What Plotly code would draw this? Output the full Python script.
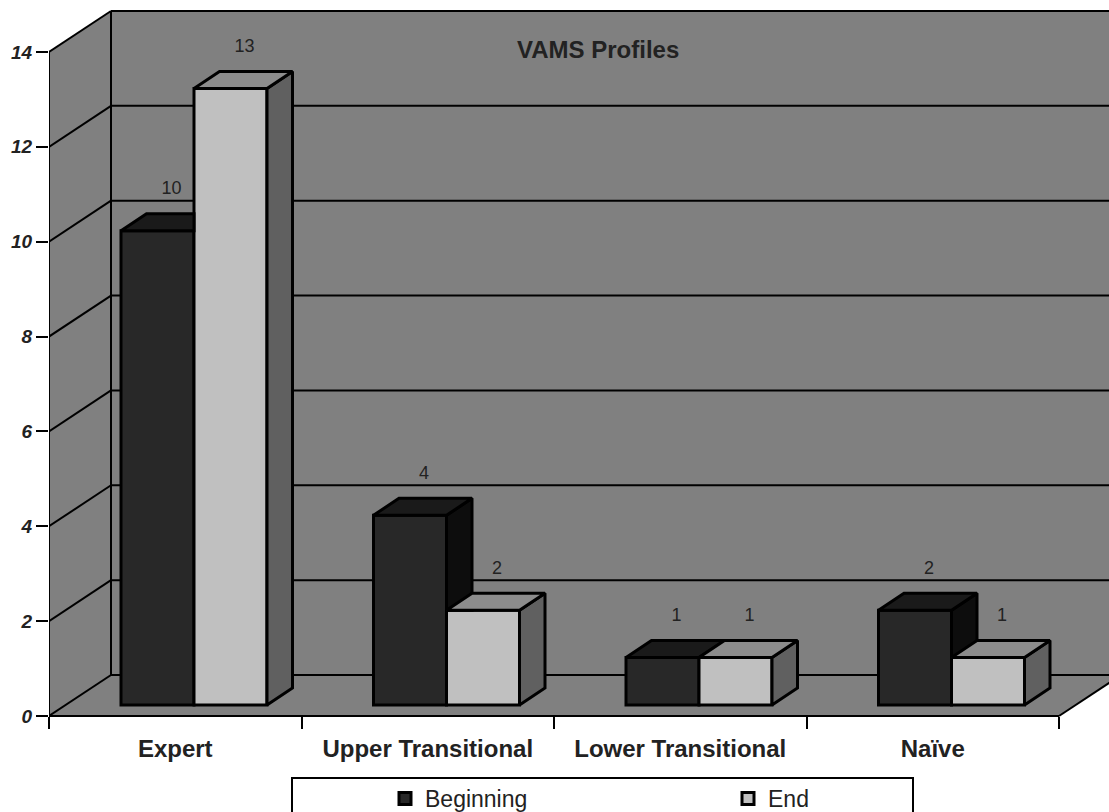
import plotly.graph_objects as go

categories = ["Expert", "Upper Transitional", "Lower Transitional", "Naïve"]
beginning = [10, 4, 1, 2]
end = [13, 2, 1, 1]
y_ticks = [0, 2, 4, 6, 8, 10, 12, 14]
title_text = "VAMS Profiles"

W, H = 1109, 812
X0, Y0 = 49, 716          # front-left corner of the floor, pixels
CAT_PX = 252.5            # one category in px
VAL_PX = 47.43            # one value unit in px
px = lambda p: p / CAT_PX
py = lambda p: p / VAL_PX

WALL_DX, WALL_DY = px(62), py(41)
BAR_DX, BAR_DY = px(25.5), py(17)
BASE = py(11)
BAR_W = px(73)
BAR_LEFT = px(72)
XMAX = px(W - X0)
YMIN, YMAX = py(Y0 - H), py(Y0)

WALL = "#808080"
LINE = "#000000"
TEXT = "#222222"
FRONT = ["#282828", "#c0c0c0"]
TOP = ["#1a1a1a", "#8c8c8c"]
SIDE = ["#0d0d0d", "#606060"]
BAR_LW = 3


def poly(xs, ys, color):
    return go.Scatter(x=xs, y=ys, mode="lines", fill="toself", fillcolor=color,
                      line=dict(color=LINE, width=BAR_LW), hoverinfo="skip", showlegend=False)


fig = go.Figure()
centers = [i + 0.5 for i in range(len(categories))]
series = [("Beginning", beginning, 0), ("End", end, 1)]

for name, vals, k in series:
    fig.add_trace(go.Bar(
        name=name, x=centers, y=vals, base=BASE, width=BAR_W,
        offset=[BAR_LEFT + k * BAR_W - 0.5] * len(vals),
        marker=dict(color=FRONT[k], line=dict(color=LINE, width=BAR_LW)),
    ))

for i in range(len(categories)):
    for name, vals, k in series:
        v = vals[i]
        x1 = i + BAR_LEFT + k * BAR_W
        x2 = x1 + BAR_W
        top = BASE + v
        hidden = k == 0 and end[i] >= v      # the End bar stands in front of this side
        if not hidden:
            low = BASE + end[i] if k == 0 else BASE
            low_right = low if k == 0 else low + BAR_DY
            fig.add_trace(poly([x2, x2, x2 + BAR_DX, x2 + BAR_DX, x2],
                               [low, top, top + BAR_DY, low_right, low], SIDE[k]))
        if k == 0 and end[i] > v:
            fig.add_trace(poly([x1, x2, x2, x1 + BAR_DX, x1],
                               [top, top, top + BAR_DY, top + BAR_DY, top], TOP[k]))
        else:
            fig.add_trace(poly([x1, x2, x2 + BAR_DX, x1 + BAR_DX, x1],
                               [top, top, top + BAR_DY, top + BAR_DY, top], TOP[k]))

label_x, label_y, label_t = [], [], []
for i in range(len(categories)):
    for name, vals, k in series:
        label_x.append(i + BAR_LEFT + (k + 0.5) * BAR_W + px(14))
        label_y.append(BASE + vals[i] + py(41))
        label_t.append(str(vals[i]))
fig.add_trace(go.Scatter(x=label_x, y=label_y, text=label_t, mode="text", textposition="middle center",
                         textfont=dict(family="Liberation Sans", size=18, color=TEXT),
                         hoverinfo="skip", showlegend=False))

shapes = []
line = dict(color=LINE, width=2)
nc = len(categories)
top_tick = y_ticks[-1]
wall_paths = [
    f"M0,0 L{WALL_DX},{WALL_DY} L{WALL_DX},{top_tick + WALL_DY} L0,{top_tick} Z",
    f"M{WALL_DX},{WALL_DY} L{XMAX},{WALL_DY} L{XMAX},{top_tick + WALL_DY} L{WALL_DX},{top_tick + WALL_DY} Z",
    f"M0,0 L{nc},0 L{nc + WALL_DX},{WALL_DY} L{WALL_DX},{WALL_DY} Z",
]
for p in wall_paths:
    shapes.append(dict(type="path", layer="below", xref="x", yref="y", line=dict(width=0),
                       fillcolor=WALL, path=p))


def seg(x0, y0, x1, y1):
    return dict(type="line", layer="below", xref="x", yref="y", line=line, x0=x0, y0=y0, x1=x1, y1=y1)


for t in y_ticks:
    shapes.append(seg(0, t, WALL_DX, t + WALL_DY))
    shapes.append(seg(WALL_DX, t + WALL_DY, XMAX, t + WALL_DY))
shapes.append(seg(0, 0, 0, top_tick))
shapes.append(seg(WALL_DX, WALL_DY, WALL_DX, top_tick + WALL_DY))
shapes.append(seg(0, 0, nc, 0))
shapes.append(seg(nc, 0, nc + WALL_DX, WALL_DY))
# legend frame (open at the page's lower edge)
shapes.append(dict(type="rect", xref="paper", yref="paper", line=dict(color=LINE, width=2),
                   x0=292 / W, x1=913 / W, y0=-0.1, y1=(H - 778) / H))

fig.update_layout(
    width=W, height=H, margin=dict(l=0, r=0, t=0, b=0, autoexpand=False),
    paper_bgcolor="white", plot_bgcolor="white",
    barmode="overlay", shapes=shapes, showlegend=True,
    font=dict(family="Liberation Sans", color=TEXT),
    annotations=[dict(text=f"<b>{title_text}</b>", xref="paper", yref="paper", showarrow=False,
                      x=598 / W, y=(H - 50) / H, xanchor="center", yanchor="middle",
                      font=dict(size=24, color=TEXT, family="Liberation Sans"))],
    legend=dict(orientation="h", x=385 / W, y=(H - 777) / H, xanchor="left", yanchor="top",
                bgcolor="rgba(0,0,0,0)", borderwidth=0, entrywidth=298, entrywidthmode="pixels",
                font=dict(size=23, color=TEXT, family="Liberation Sans")),
    xaxis=dict(domain=[X0 / W, 1], range=[0, XMAX], anchor="free", position=(H - Y0) / H,
               tickmode="array", tickvals=centers, ticktext=categories, ticks="", ticklen=0,
               ticklabelstandoff=16, showgrid=False, zeroline=False, showline=False,
               tickfont=dict(family="Liberation Sans", size=24, color=TEXT, weight="bold"),
               minor=dict(tickmode="array", tickvals=list(range(nc + 1)), ticks="outside", ticklen=12,
                          tickwidth=2, tickcolor=LINE, showgrid=False)),
    yaxis=dict(domain=[0, 1], range=[YMIN, YMAX], tickmode="array", tickvals=y_ticks,
               ticks="outside", ticklen=12, tickwidth=2, tickcolor=LINE, showgrid=False, zeroline=False,
               showline=False,
               tickfont=dict(family="Liberation Sans", size=19, color=TEXT, weight="bold", style="italic")),
)

fig.write_html("out.html", config={"displayModeBar": False},
               post_script="document.body.style.margin='0';document.body.style.overflow='hidden';")
